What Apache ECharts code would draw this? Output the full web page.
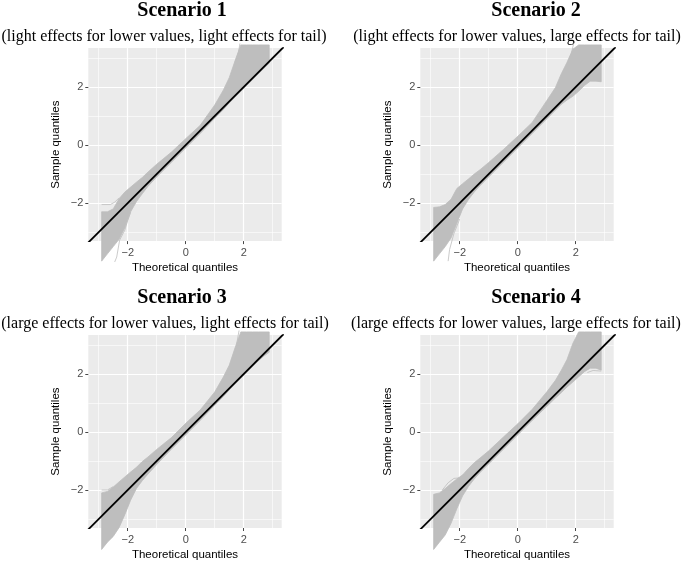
<!DOCTYPE html>
<html>
<head>
<meta charset="utf-8">
<script src="https://cdn.jsdelivr.net/npm/echarts@6/dist/echarts.min.js"></script>
<style>html,body{margin:0;padding:0;background:#fff;}#c{width:685px;height:562px;}</style>
</head>
<body>
<div id="c"></div>
<script>
// Theoretical quantile positions where band envelopes were read
const qx = [-2.9, -2.7, -2.5, -2.3, -2.1, -1.9, -1.7, -1.5, -1.3, -1.0, -0.5, 0, 0.5, 1.0, 1.3, 1.5, 1.7, 1.9, 2.1, 2.3, 2.5, 2.7, 2.88];

// Envelopes (upper / lower sample quantiles) of the simulated curves
const s1Upper = [-2.3, -2.3, -2.2, -1.85, -1.62, -1.45, -1.28, -1.12, -0.93, -0.66, -0.25, 0.22, 0.68, 1.38, 1.9, 2.32, 2.9, 3.45, 3.45, 3.45, 3.45, 3.45, 3.45];
const s1Lower = [-4.0, -3.75, -3.5, -3.25, -2.85, -2.3, -1.95, -1.68, -1.42, -1.1, -0.6, -0.1, 0.4, 0.92, 1.22, 1.45, 1.65, 1.85, 2.05, 2.25, 2.45, 2.65, 2.82];
const s2Upper = [-2.15, -2.13, -2.05, -1.87, -1.5, -1.33, -1.17, -1.0, -0.85, -0.6, -0.16, 0.3, 0.78, 1.53, 1.98, 2.45, 2.85, 3.3, 3.45, 3.45, 3.45, 3.45, 3.45];
const s2Lower = [-4.0, -3.75, -3.5, -3.2, -2.7, -2.2, -1.88, -1.62, -1.4, -1.1, -0.6, -0.1, 0.4, 0.9, 1.2, 1.4, 1.55, 1.68, 1.85, 2.05, 2.2, 2.2, 2.18];
const s3Upper = [-2.1, -2.05, -1.9, -1.72, -1.55, -1.38, -1.22, -1.02, -0.86, -0.6, -0.2, 0.3, 0.76, 1.38, 1.9, 2.3, 2.9, 3.45, 3.45, 3.45, 3.45, 3.45, 3.45];
const s3Lower = [-4.05, -3.8, -3.6, -3.3, -2.85, -2.35, -1.95, -1.68, -1.45, -1.12, -0.6, -0.1, 0.4, 0.92, 1.22, 1.45, 1.65, 1.85, 2.05, 2.25, 2.45, 2.62, 2.75];
const s4Upper = [-2.15, -2.1, -1.95, -1.78, -1.62, -1.48, -1.26, -1.06, -0.9, -0.65, -0.18, 0.28, 0.78, 1.38, 1.78, 2.12, 2.5, 3.05, 3.45, 3.45, 3.45, 3.45, 3.45];
const s4Lower = [-4.05, -3.8, -3.55, -3.15, -2.65, -2.2, -1.88, -1.62, -1.4, -1.1, -0.6, -0.1, 0.4, 0.88, 1.17, 1.35, 1.55, 1.72, 1.9, 2.08, 2.2, 2.2, 2.13];

// A few individual curves standing out of the bands
const s1Strays = [
  [[-2.9, -2.05], [-2.6, -2.05], [-2.45, -1.97], [-2.3, -1.82]],
  [[-1.9, -2.32], [-2.0, -2.6], [-2.1, -2.93], [-2.28, -3.28], [-2.38, -3.86], [-2.45, -4.03]],
  [[1.7, 2.85], [1.82, 3.2], [1.87, 3.5]]
];
const s2Strays = [
  [[1.75, 2.9], [1.85, 3.15], [1.93, 3.5]],
  [[-2.0, -2.55], [-2.2, -3.05], [-2.35, -3.6], [-2.4, -4.0]]
];
const s3Strays = [
  [[-2.9, -2.0], [-2.7, -2.0], [-2.5, -1.88]],
  [[1.75, 3.0], [1.84, 3.5]]
];
const s4Strays = [
  [[-2.6, -2.0], [-2.4, -1.75], [-2.2, -1.6], [-2.0, -1.58], [-1.85, -1.45]],
  [[2.4, 2.05], [2.6, 2.12], [2.88, 2.1]]
];

// Reference line y = x
const refLine = [[-3.4, -3.4], [3.4, 3.4]];

// Axis ranges and tick values
const xRange = [-3.36, 3.31];
const yRange = [-3.31, 3.34];
const majorTicks = [-2, 0, 2];
const minorTicks = [-3, -1, 1, 3];

const titles = ['Scenario 1', 'Scenario 2', 'Scenario 3', 'Scenario 4'];
const subtitles = [
  '(light effects for lower values, light effects for tail)',
  '(light effects for lower values, large effects for tail)',
  '(large effects for lower values, light effects for tail)',
  '(large effects for lower values, large effects for tail)'
];

const panels = [
  {up: s1Upper, lo: s1Lower, strays: s1Strays},
  {up: s2Upper, lo: s2Lower, strays: s2Strays},
  {up: s3Upper, lo: s3Lower, strays: s3Strays},
  {up: s4Upper, lo: s4Lower, strays: s4Strays}
];

// Layout
const gridPos = [
  {left: 88.3, top: 48.1},
  {left: 420.3, top: 48.1},
  {left: 88.3, top: 335.1},
  {left: 420.3, top: 335.1}
];
const titlePos = [[182, 11], [536, 11], [182, 298], [536, 298]];
const subPos = [[164, 37], [517, 37], [165, 324], [516, 324]];

const SANS = "'Liberation Sans', Arial, sans-serif";
const SERIF = "'Liberation Serif', 'Times New Roman', serif";
const BAND = '#BEBEBE';
const fmt = v => (v < 0 ? '\u2212' + Math.abs(v) : String(v));

const grid = [], xAxis = [], yAxis = [], series = [], graphic = [];

panels.forEach((p, g) => {
  grid.push({left: gridPos[g].left, top: gridPos[g].top, width: 193.4, height: 193,
    show: true, backgroundColor: '#EBEBEB', borderWidth: 0, containLabel: false});
  // major axis
  xAxis.push({type: 'value', gridIndex: g, position: 'bottom', min: xRange[0], max: xRange[1], splitNumber: 3,
    axisLine: {show: false, onZero: false},
    axisTick: {show: true, length: 3, customValues: majorTicks, lineStyle: {color: '#333333', width: 0.9}},
    axisLabel: {customValues: majorTicks, formatter: fmt, color: '#4D4D4D', fontSize: 11, fontFamily: SANS, margin: 6},
    splitLine: {show: true, lineStyle: {color: '#FFFFFF', width: 1.2}},
    name: 'Theoretical quantiles', nameLocation: 'middle', nameGap: 21,
    nameTextStyle: {color: '#000000', fontSize: 11.5, fontFamily: SANS}
  });
  // minor axis
  xAxis.push({type: 'value', gridIndex: g, position: 'bottom', min: xRange[0], max: xRange[1], splitNumber: 5,
    axisLine: {show: false, onZero: false}, axisTick: {show: false, customValues: minorTicks},
    axisLabel: {show: false},
    splitLine: {show: true, lineStyle: {color: '#FFFFFF', width: 0.6}}
  });
  yAxis.push({type: 'value', gridIndex: g, position: 'left', min: yRange[0], max: yRange[1], splitNumber: 3,
    axisLine: {show: false, onZero: false},
    axisTick: {show: true, length: 3, customValues: majorTicks, lineStyle: {color: '#333333', width: 0.9}},
    axisLabel: {customValues: majorTicks, formatter: fmt, color: '#4D4D4D', fontSize: 11, fontFamily: SANS, margin: 5},
    splitLine: {show: true, lineStyle: {color: '#FFFFFF', width: 1.2}},
    name: 'Sample quantiles', nameLocation: 'middle', nameGap: 26,
    nameTextStyle: {color: '#000000', fontSize: 11.5, fontFamily: SANS}
  });
  yAxis.push({type: 'value', gridIndex: g, position: 'left', min: yRange[0], max: yRange[1], splitNumber: 5,
    axisLine: {show: false, onZero: false}, axisTick: {show: false, customValues: minorTicks},
    axisLabel: {show: false},
    splitLine: {show: true, lineStyle: {color: '#FFFFFF', width: 0.6}}
  });

  const xi = 2 * g, yi = 2 * g;
  const up = p.up, lo = p.lo;
  series.push({
    type: 'custom', xAxisIndex: xi, yAxisIndex: yi, clip: false, z: 2,
    data: qx.map((x, i) => [x, up[i], lo[i]]),
    encode: {x: 0, y: [1, 2]},
    renderItem: function (params, api) {
      if (params.dataIndex !== 0) return null;
      const pts = [];
      for (let i = 0; i < qx.length; i++) pts.push(api.coord([qx[i], up[i]]));
      for (let i = qx.length - 1; i >= 0; i--) pts.push(api.coord([qx[i], lo[i]]));
      return {type: 'polygon', shape: {points: pts}, style: {fill: BAND, stroke: BAND, lineWidth: 0.8}};
    },
    silent: true
  });
  p.strays.forEach(s => {
    series.push({type: 'line', xAxisIndex: xi, yAxisIndex: yi, data: s, clip: false, z: 2,
      showSymbol: false, symbol: 'none', smooth: false,
      lineStyle: {color: BAND, width: 0.8}, silent: true});
  });
  series.push({type: 'line', xAxisIndex: xi, yAxisIndex: yi, data: refLine, clip: true, z: 5,
    showSymbol: false, symbol: 'none', lineStyle: {color: '#000000', width: 1.8}, silent: true});

  graphic.push({type: 'text', x: titlePos[g][0], y: titlePos[g][1],
    style: {text: titles[g], fill: '#000', font: 'bold 20px ' + SERIF, textAlign: 'center', textVerticalAlign: 'middle'}});
  graphic.push({type: 'text', x: subPos[g][0], y: subPos[g][1],
    style: {text: subtitles[g], fill: '#000', font: '16px ' + SERIF, textAlign: 'center', textVerticalAlign: 'middle'}});
});

const chart = echarts.init(document.getElementById('c'), null, {renderer: 'canvas'});
chart.setOption({animation: false, grid, xAxis, yAxis, series, graphic});
</script>
</body>
</html>
